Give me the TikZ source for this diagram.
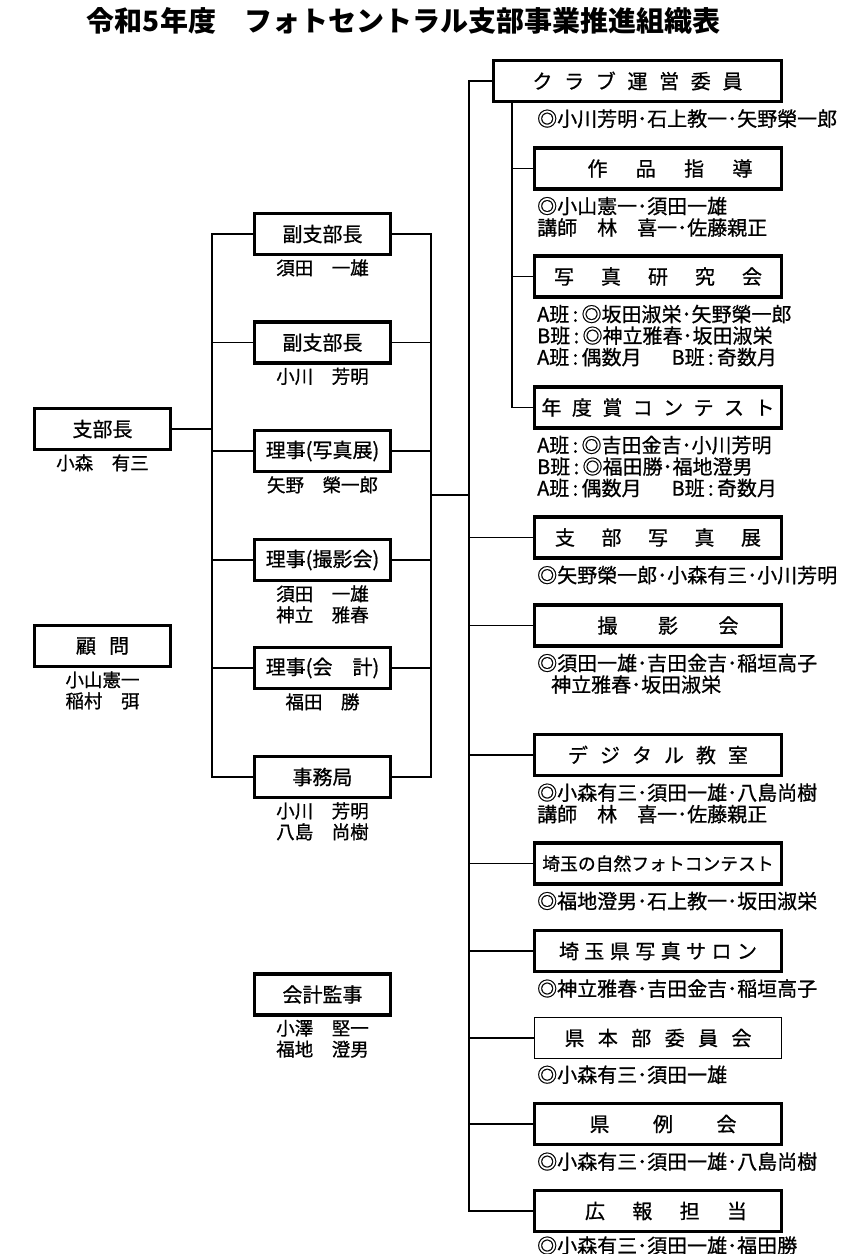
\documentclass[tikz,border=0pt]{standalone}
\usepackage{fontspec}
\setmainfont{Noto Sans CJK JP}[UprightFeatures={FakeBold=0.8}]
\usetikzlibrary{positioning}
\newcommand{\spaced}[2]{\makebox[#1]{\spacedaux#2\relax}}
\def\spacedaux#1#2{#1\ifx\relax#2\else\hfill\expandafter\spacedaux\fi#2}
\begin{document}
\begin{tikzpicture}[x=1pt,y=-1pt]
  \tikzstyle{box}=[draw,line width=3.2pt,minimum width=136pt,minimum height=41pt,inner sep=0pt,font=\fontsize{20}{24}\selectfont]
  \tikzstyle{wide box}=[box,minimum width=247pt]
  \tikzstyle{names}=[inner sep=0pt,align=center,anchor=north,font=\fontsize{18.5}{21}\selectfont]
  \tikzstyle{members}=[inner sep=0pt,align=left,anchor=north west,yshift=-6pt,font=\fontsize{20}{21.5}\selectfont]
  \tikzstyle{link}=[line width=1.9pt,line cap=rect]
  \useasboundingbox (0,0) rectangle (850,1254);
  \node[font=\fontsize{28}{30}\selectfont\bfseries] (title) at (403.5,20.5) {令和5年度　フォトセントラル支部事業推進組織表};

  \node[box] (chief) at (102.5,429) {支部長};
  \node[names,below=3pt of chief] {小森　有三};
  \node[box] (adv) at (102.5,646) {\spaced{53pt}{顧問}};
  \node[names,align=left,below=3pt of adv] {小山憲一\\稲村　弭};

  \node[box] (vice1) at (322.5,234) {副支部長};
  \node[names,below=3pt of vice1] {須田　一雄};
  \node[box] (vice2) at (322.5,342.5) {副支部長};
  \node[names,below=3pt of vice2] {小川　芳明};
  \node[box] (exh) at (322.5,451) {理事(写真展)};
  \node[names,below=3pt of exh] {矢野　榮一郎};
  \node[box] (shoot) at (322.5,560) {理事(撮影会)};
  \node[names,below=3pt of shoot] {須田　一雄\\神立　雅春};
  \node[box] (acct) at (322.5,668) {理事(会　計)};
  \node[names,below=3pt of acct] {福田　勝};
  \node[box] (office) at (322.5,777) {事務局};
  \node[names,below=3pt of office] {小川　芳明\\八島　尚樹};
  \node[box] (audit) at (322.5,994.5) {会計監事};
  \node[names,below=3pt of audit] {小澤　堅一\\福地　澄男};

  \coordinate (col) at (537,0);
  \node[box,minimum width=288pt] (club) at (637.5,81) {\spaced{210pt}{クラブ運営委員}};
  \node[members] at (col |- club.south) {◎小川芳明･石上教一･矢野榮一郎};
  \node[wide box] (guide) at (658,168.5) {\hspace*{24pt}\spaced{165pt}{作品指導}};
  \node[members] at (col |- guide.south) {◎小山憲一･須田一雄\\講師　林　喜一･佐藤親正};
  \node[wide box] (study) at (658,276.5) {\spaced{208pt}{写真研究会}};
  \node[members] at (col |- study.south) {A班\,:\,◎坂田淑栄･矢野榮一郎\\B班\,:\,◎神立雅春･坂田淑栄\\A班\,:\,偶数月\hspace{30pt}B班\,:\,奇数月};
  \node[wide box] (award) at (658,407.5) {\spaced{233pt}{年度賞コンテスト}};
  \node[members] at (col |- award.south) {A班\,:\,◎吉田金吉･小川芳明\\B班\,:\,◎福田勝･福地澄男\\A班\,:\,偶数月\hspace{30pt}B班\,:\,奇数月};
  \node[wide box] (show) at (658,537.5) {\spaced{206pt}{支部写真展}};
  \node[members] at (col |- show.south) {◎矢野榮一郎･小森有三･小川芳明};
  \node[wide box] (outing) at (658,625.5) {\hspace*{20pt}\spaced{141pt}{撮影会}};
  \node[members] at (col |- outing.south) {◎須田一雄･吉田金吉･稲垣高子\\\hspace*{14pt}神立雅春･坂田淑栄};
  \node[wide box] (digital) at (658,755) {\spaced{180pt}{デジタル教室}};
  \node[members] at (col |- digital.south) {◎小森有三･須田一雄･八島尚樹\\講師　林　喜一･佐藤親正};
  \node[wide box,font=\fontsize{17.8}{20}\selectfont] (nature) at (658,863.5) {埼玉の自然フォトコンテスト};
  \node[members] at (col |- nature.south) {◎福地澄男･石上教一･坂田淑栄};
  \node[wide box] (salon) at (658,951) {\spaced{198pt}{埼玉県写真サロン}};
  \node[members] at (col |- salon.south) {◎神立雅春･吉田金吉･稲垣高子};
  \node[wide box,line width=1.5pt] (pref) at (658,1038) {\spaced{187pt}{県本部委員会}};
  \node[members] at (col |- pref.south) {◎小森有三･須田一雄};
  \node[wide box] (meet) at (658,1124) {\hspace*{10pt}\spaced{147pt}{県例会}};
  \node[members] at (col |- meet.south) {◎小森有三･須田一雄･八島尚樹};
  \node[wide box] (pr) at (658,1211) {\hspace*{16pt}\spaced{162pt}{広報担当}};
  \node[members,yshift=3pt] at (col |- pr.south) {◎小森有三･須田一雄･福田勝};

  \coordinate (lbus) at (212,0);
  \coordinate (rbus) at (431,0);
  \coordinate (mbus) at (469,0);
  \coordinate (sbus) at (512,0);
  \coordinate (join) at (431,495);
  \draw[link] (chief.east) -- (chief -| lbus);
  \draw[link] (vice1 -| lbus) -- (office -| lbus);
  \draw[link] (vice1 -| rbus) -- (office -| rbus);
  \foreach \n in {vice1,vice2,exh,shoot,acct,office}
    \draw[link] (\n.west) -- (\n -| lbus) (\n.east) -- (\n -| rbus);
  \draw[link] (join) -- (join -| mbus);
  \draw[link] (club -| mbus) -- (pr -| mbus);
  \draw[link] (club.west) -- (club -| mbus);
  \foreach \n in {show,outing,digital,nature,salon,pref,meet,pr}
    \draw[link] (\n.west) -- (\n -| mbus);
  \draw[link] (club.south -| sbus) -- (award -| sbus);
  \foreach \n in {guide,study,award}
    \draw[link] (\n.west) -- (\n -| sbus);
\end{tikzpicture}
\end{document}
